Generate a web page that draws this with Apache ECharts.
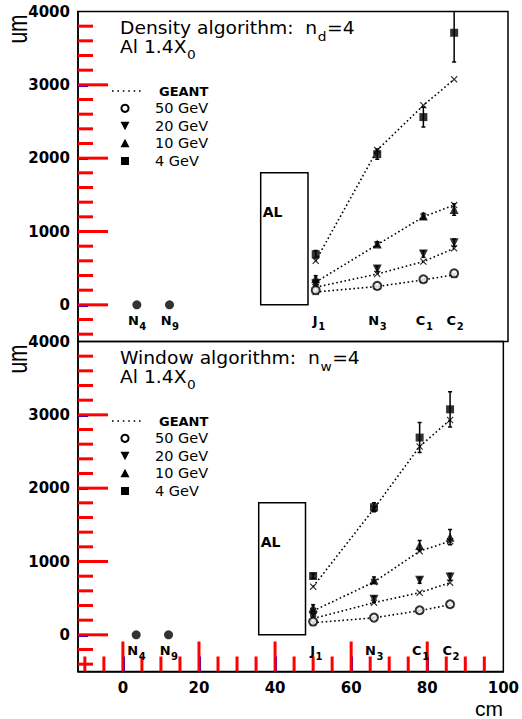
<!DOCTYPE html>
<html>
<head>
<meta charset="utf-8">
<script src="https://cdn.jsdelivr.net/npm/echarts@6/dist/echarts.min.js"></script>
<style>
html, body { margin: 0; padding: 0; background: #fff; }
#chart { width: 522px; height: 719px; }
</style>
</head>
<body>
<div id="chart"></div>
<script>
// Detector stations along the beam line (cm)
const stationNames = ['N', 'N', 'J', 'N', 'C', 'C'];
const stationSubs = ['4', '9', '1', '3', '1', '2'];
const stationPos = [3.5, 12, 50, 66, 78, 86];
const stationLabelY = -218;

// Reference planes upstream of the absorber (zero width)
const refPos = [3.5, 12];
const refVal = [0, 0];

// Measurement planes downstream of the aluminium block
const measPos = [50, 66, 78, 86];

// Aluminium absorber: x from / to (cm), height (um)
const alX = [35.7, 48];
const alY = [0, 1800];
const alLabelY = 1270;

// Density algorithm, n_d = 4 (um)
const dens50 = [200, 258, 349, 430];
const dens20 = [285, 490, 694, 848];
const dens10 = [355, 830, 1210, 1300];
const dens4 = [690, 2055, 2560, 3710];
const dens20Err = [30, 40, 45, 50];
const dens10Err = [40, 30, 40, 80];
const dens4Err = [50, 70, 135, 400];
const densGeant50 = [175, 250, 340, 410];
const densGeant20 = [240, 420, 590, 770];
const densGeant10 = [310, 820, 1200, 1360];
const densGeant4 = [600, 2110, 2720, 3075];

// Window algorithm, n_w = 4 (um)
const win50 = [181, 235, 335, 417];
const win20 = [258, 485, 743, 790];
const win10 = [370, 747, 1218, 1331];
const win4 = [802, 1740, 2690, 3075];
const win20Err = [30, 40, 40, 45];
const win10Err = [40, 40, 70, 104];
const win4Err = [30, 60, 204, 240];
const winGeant50 = [165, 232, 330, 410];
const winGeant20 = [222, 439, 575, 711];
const winGeant10 = [326, 720, 1141, 1277];
const winGeant4 = [657, 1720, 2568, 2930];

// Axis ranges and ticks
const xRange = [-11.8, 100];
const yRange = [-500, 4000];
const xLabels = [0, 20, 40, 60, 80, 100];
const xMajor = [0, 20, 40, 60, 80];
const xMinor = [-10, -5, 5, 10, 15, 25, 30, 35, 45, 50, 55, 65, 70, 75, 85, 90, 95];
const yLabels = [0, 1000, 2000, 3000, 4000];
const yMajor = [0, 1000, 2000, 3000];
const yMinor = [-400, -200, 200, 400, 600, 800, 1200, 1400, 1600, 1800, 2200, 2400, 2600, 2800, 3200, 3400, 3600, 3800];

const BLACK = '#000';
const TICK = 'red';
const FONT = '"DejaVu Sans", "Liberation Sans", sans-serif';
const X_SYMBOL = 'path://M0,1.2L1.2,0L5,3.8L8.8,0L10,1.2L6.2,5L10,8.8L8.8,10L5,6.2L1.2,10L0,8.8L3.8,5Z';
const DOWN_TRI = 'path://M0,0L10,0L5,9Z';

const measureCtx = document.createElement('canvas').getContext('2d');
function textWidth(str, font) {
  measureCtx.font = font;
  return measureCtx.measureText(str).width;
}

const pairs = (xs, ys) => xs.map((x, i) => [x, ys[i]]);

function geantLine(xi, yi, vals) {
  return {
    type: 'line', xAxisIndex: xi, yAxisIndex: yi, data: pairs(measPos, vals),
    symbol: 'none', silent: true, z: 2,
    lineStyle: { color: BLACK, width: 1.6, type: [1.6, 2.6] }
  };
}
function geantMarks(xi, yi, vals) {
  return {
    type: 'scatter', xAxisIndex: xi, yAxisIndex: yi, data: pairs(measPos, vals),
    symbol: X_SYMBOL, symbolSize: 7, silent: true, z: 3,
    itemStyle: { color: BLACK }
  };
}
function points(xi, yi, vals, symbol, size, open) {
  return {
    type: 'scatter', xAxisIndex: xi, yAxisIndex: yi, data: pairs(measPos, vals),
    symbol: symbol, symbolSize: size, silent: true, z: 5,
    itemStyle: open ? { color: '#fff', borderColor: BLACK, borderWidth: 2 } : { color: BLACK }
  };
}
function errorBars(xi, yi, vals, errs) {
  return {
    type: 'custom', xAxisIndex: xi, yAxisIndex: yi, clip: true, silent: true, z: 4,
    data: measPos.map((x, i) => [x, vals[i], errs[i]]),
    encode: { x: 0, y: 1 },
    renderItem: function (params, api) {
      const x = api.value(0), y = api.value(1), e = api.value(2);
      const a = api.coord([x, y - e]);
      const b = api.coord([x, y + e]);
      const st = { stroke: BLACK, lineWidth: 1.5 };
      return {
        type: 'group', children: [
          { type: 'line', shape: { x1: a[0], y1: a[1], x2: b[0], y2: b[1] }, style: st },
          { type: 'line', shape: { x1: a[0] - 2, y1: a[1], x2: a[0] + 2, y2: a[1] }, style: st },
          { type: 'line', shape: { x1: b[0] - 2, y1: b[1], x2: b[0] + 2, y2: b[1] }, style: st }
        ]
      };
    }
  };
}
function absorber(xi, yi) {
  return {
    type: 'custom', xAxisIndex: xi, yAxisIndex: yi, silent: true, z: 2,
    data: [[alX[0], alY[0], alX[1], alY[1]]],
    encode: { x: [0, 2], y: [1, 3] },
    renderItem: function (params, api) {
      const p0 = api.coord([api.value(0), api.value(1)]);
      const p1 = api.coord([api.value(2), api.value(3)]);
      const pl = api.coord([api.value(0), alLabelY]);
      return {
        type: 'group', children: [
          { type: 'rect', shape: { x: p0[0], y: p1[1], width: p1[0] - p0[0], height: p0[1] - p1[1] },
            style: { fill: 'none', stroke: BLACK, lineWidth: 1.5 } },
          { type: 'text', style: { text: 'AL', x: pl[0] + 2, y: pl[1], align: 'left', verticalAlign: 'middle',
            font: 'bold 14px ' + FONT, fill: BLACK } }
        ]
      };
    }
  };
}
function stationLabels(xi, yi) {
  return {
    type: 'custom', xAxisIndex: xi, yAxisIndex: yi, silent: true, z: 6,
    data: stationPos.map((x, i) => [x, stationLabelY, i]),
    encode: { x: 0, y: 1 },
    renderItem: function (params, api) {
      const p = api.coord([api.value(0), api.value(1)]);
      const i = api.value(2);
      return {
        type: 'group', children: [
          { type: 'text', style: { text: stationNames[i], x: p[0] + 2, y: p[1], align: 'right', verticalAlign: 'middle',
            font: 'bold 13px ' + FONT, fill: BLACK } },
          { type: 'text', style: { text: stationSubs[i], x: p[0] + 2.5, y: p[1] + 6, align: 'left', verticalAlign: 'middle',
            font: 'bold 10px ' + FONT, fill: BLACK } }
        ]
      };
    }
  };
}
function refPoints(xi, yi) {
  return {
    type: 'scatter', xAxisIndex: xi, yAxisIndex: yi, data: pairs(refPos, refVal),
    symbol: 'circle', symbolSize: 9, silent: true, z: 5, itemStyle: { color: BLACK }
  };
}

// Inward tick marks along the left frame and, for the lower panel, the bottom frame
function frameTicks(xi, yi, withX) {
  return {
    type: 'custom', xAxisIndex: xi, yAxisIndex: yi,
    data: [[0, 0]],
    encode: { x: 0, y: 1 },
    renderItem: function (params, api) {
      const st = { stroke: TICK, lineWidth: 3 };
      const kids = [];
      const yTick = (v, len) => {
        const p = api.coord([xRange[0], v]);
        kids.push({ type: 'line', shape: { x1: p[0], y1: p[1], x2: p[0] + len, y2: p[1] }, style: st });
      };
      const xTick = (v, len) => {
        const p = api.coord([v, yRange[0]]);
        kids.push({ type: 'line', shape: { x1: p[0], y1: p[1], x2: p[0], y2: p[1] - len }, style: st });
      };
      yMajor.forEach(v => yTick(v, 30));
      yMinor.forEach(v => yTick(v, 15));
      if (withX) {
        xMajor.forEach(v => xTick(v, 30));
        xMinor.forEach(v => xTick(v, 15));
      }
      return { type: 'group', children: kids };
    }
  };
}

function panelSeries(xi, yi, d, withX) {
  return [
    absorber(xi, yi),
    geantLine(xi, yi, d.g4), geantLine(xi, yi, d.g10), geantLine(xi, yi, d.g20), geantLine(xi, yi, d.g50),
    geantMarks(xi, yi, d.g4), geantMarks(xi, yi, d.g10), geantMarks(xi, yi, d.g20), geantMarks(xi, yi, d.g50),
    errorBars(xi, yi, d.v4, d.e4), errorBars(xi, yi, d.v10, d.e10), errorBars(xi, yi, d.v20, d.e20),
    points(xi, yi, d.v4, 'rect', 8, false),
    points(xi, yi, d.v10, 'triangle', 9, false),
    points(xi, yi, d.v20, DOWN_TRI, 9, false),
    points(xi, yi, d.v50, 'circle', 8, true),
    refPoints(xi, yi),
    stationLabels(xi, yi),
    frameTicks(xi, yi, withX)
  ];
}

// A line of text followed by a lowered subscript and an optional tail
const TEXT_STRETCH = 1.1;
function subscripted(x, y, head, sub, tail, drop) {
  const mainFont = '17px ' + FONT;
  const subFont = '12.5px ' + FONT;
  const w1 = textWidth(head, mainFont) * TEXT_STRETCH;
  const w2 = textWidth(sub, subFont) * TEXT_STRETCH;
  const out = [
    { type: 'text', x: x, y: y, scaleX: TEXT_STRETCH,
      style: { text: head, font: mainFont, fill: BLACK, align: 'left', verticalAlign: 'middle' } },
    { type: 'text', x: x + w1 + 0.5, y: y + drop, scaleX: TEXT_STRETCH,
      style: { text: sub, font: subFont, fill: BLACK, align: 'left', verticalAlign: 'middle' } }
  ];
  if (tail) {
    out.push({ type: 'text', x: x + w1 + w2 + 1, y: y, scaleX: TEXT_STRETCH,
      style: { text: tail, font: mainFont, fill: BLACK, align: 'left', verticalAlign: 'middle' } });
  }
  return out;
}

// Text block and legend of one panel; dy shifts it down to the lower panel
function panelNotes(title, sub, dy) {
  const lx = 125, tx = 155;
  const rows = [108.3, 125.7, 143.3, 161].map(v => v + dy);
  const legText = (t, y) => ({ type: 'text', x: tx, y: y,
    style: { text: t, font: '14.5px ' + FONT, fill: BLACK, align: 'left', verticalAlign: 'middle' } });
  return [].concat(
    subscripted(120, 27.8 + dy, title + '  n', sub, '=4', 9),
    subscripted(120, 47 + dy, 'Al 1.4X', '0', '', 8),
    [
      { type: 'line', shape: { x1: 112, y1: 91 + dy, x2: 143, y2: 91 + dy },
        style: { stroke: BLACK, lineWidth: 1.6, lineDash: [1.6, 3.8] } },
      { type: 'text', x: 159, y: 91 + dy, style: { text: 'GEANT', font: 'bold 13px ' + FONT, fill: BLACK,
        align: 'left', verticalAlign: 'middle' } },
      { type: 'circle', shape: { cx: lx, cy: rows[0], r: 3.6 }, style: { fill: '#fff', stroke: BLACK, lineWidth: 2 } },
      legText('50 GeV', rows[0]),
      { type: 'polygon', shape: { points: [[lx - 4.5, rows[1] - 4], [lx + 4.5, rows[1] - 4], [lx, rows[1] + 4.5]] },
        style: { fill: BLACK } },
      legText('20 GeV', rows[1]),
      { type: 'polygon', shape: { points: [[lx - 4.5, rows[2] + 4], [lx + 4.5, rows[2] + 4], [lx, rows[2] - 4.5]] },
        style: { fill: BLACK } },
      legText('10 GeV', rows[2]),
      { type: 'rect', shape: { x: lx - 4, y: rows[3] - 4, width: 8, height: 8 }, style: { fill: BLACK } },
      legText('4 GeV', rows[3]),
      { type: 'text', x: 17, y: 29 + dy, rotation: Math.PI / 2, scaleY: 1.3,
        style: { text: 'um', font: '21px "Liberation Sans", Arial, sans-serif', fill: BLACK,
          align: 'center', verticalAlign: 'middle' } }
    ]
  );
}

const tickFont = { fontFamily: FONT, fontWeight: 'bold', fontSize: 15, color: BLACK };
const plain = v => String(v);

function yAxis(grid) {
  return { type: 'value', gridIndex: grid, min: yRange[0], max: yRange[1], position: 'left',
    axisLine: { show: true, onZero: false, lineStyle: { color: BLACK, width: 1.5 } },
    splitLine: { show: false },
    axisTick: { show: true, inside: true, length: 10, customValues: yMajor, lineStyle: { color: 'blue', width: 3 } },
    axisLabel: Object.assign({ customValues: yLabels, margin: 8, formatter: plain }, tickFont) };
}

const chart = echarts.init(document.getElementById('chart'), null, { renderer: 'svg' });

chart.setOption({
  animation: false,
  backgroundColor: '#fff',
  grid: [
    { left: 78, right: 14, top: 11.5, height: 330, show: true, borderColor: BLACK, borderWidth: 1.5 },
    { left: 78, right: 14, top: 341.5, height: 330, show: true, borderColor: BLACK, borderWidth: 1.5 }
  ],
  xAxis: [
    { type: 'value', gridIndex: 0, min: xRange[0], max: xRange[1], show: false },
    { type: 'value', gridIndex: 1, min: xRange[0], max: xRange[1], position: 'bottom',
      axisLine: { show: true, onZero: false, lineStyle: { color: BLACK, width: 1.5 } },
      splitLine: { show: false },
      axisTick: { show: true, inside: true, length: 15, customValues: xMajor, lineStyle: { color: 'blue', width: 3 } },
      axisLabel: Object.assign({ customValues: xLabels, margin: 9, formatter: plain }, tickFont) }
  ],
  yAxis: [yAxis(0), yAxis(1)],
  graphic: {
    elements: panelNotes('Density algorithm:', 'd', 0)
      .concat(panelNotes('Window algorithm:', 'w', 330))
      .concat([{ type: 'text', x: 489, y: 708, style: { text: 'cm', font: '21px "Liberation Sans", Arial, sans-serif',
        fill: BLACK, align: 'center', verticalAlign: 'middle' } }])
  },
  series: panelSeries(0, 0, {
    v50: dens50, v20: dens20, v10: dens10, v4: dens4,
    e20: dens20Err, e10: dens10Err, e4: dens4Err,
    g50: densGeant50, g20: densGeant20, g10: densGeant10, g4: densGeant4
  }, false).concat(panelSeries(1, 1, {
    v50: win50, v20: win20, v10: win10, v4: win4,
    e20: win20Err, e10: win10Err, e4: win4Err,
    g50: winGeant50, g20: winGeant20, g10: winGeant10, g4: winGeant4
  }, true))
});
</script>
</body>
</html>
